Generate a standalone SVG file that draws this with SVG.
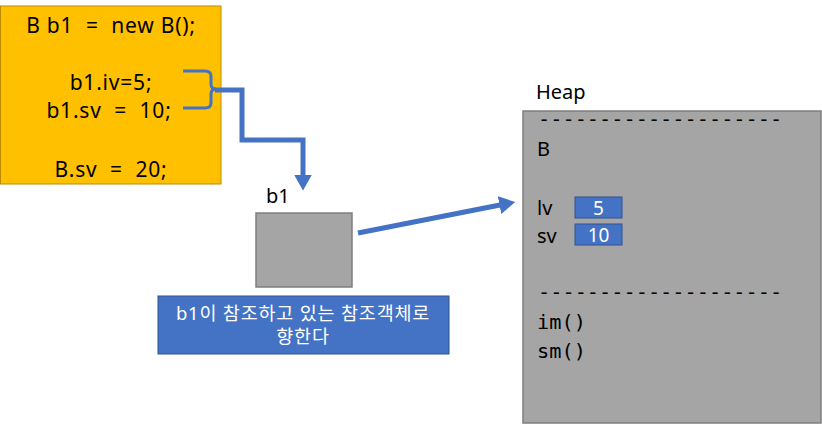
<svg xmlns="http://www.w3.org/2000/svg" width="822" height="424" viewBox="0 0 822 424">
<defs>
<style>
.t{font-family:"Noto Sans","Noto Sans CJK KR",sans-serif;font-size:20px;fill:#000}
.c{font-family:"Noto Sans","Noto Sans CJK KR",sans-serif;font-size:21px;letter-spacing:0.8px;fill:#000}
.m{font-family:"DejaVu Sans Mono","Liberation Mono",monospace;font-size:20.3px;fill:#000}
.w{font-family:"Noto Sans","Noto Sans CJK KR",sans-serif;fill:#fff}
.gray{fill:#a5a5a5;stroke:#7f7f7f;stroke-width:1.5}
.blue{fill:#4472c4;stroke:#2f528f;stroke-width:1}
.conn{fill:none;stroke:#4472c4;stroke-width:5}
</style>
<marker id="ah" markerUnits="userSpaceOnUse" markerWidth="20" markerHeight="20" viewBox="0 0 20 20" refX="0.5" refY="10" orient="auto">
<path d="M0,1 L16,10 L0,19 Z" fill="#4472c4"/>
</marker>
</defs>
<g id="code">
<rect x="0.5" y="6" width="220.5" height="178" fill="#ffc000" stroke="#bc8c00" stroke-width="1"/>
<text class="c" x="111" y="33" text-anchor="middle" xml:space="preserve">B b1  =  new B();</text>
<text class="c" x="111" y="90" text-anchor="middle">b1.iv=5;</text>
<text class="c" x="109" y="118" text-anchor="middle" xml:space="preserve">b1.sv  =  10;</text>
<text class="c" x="111" y="177" text-anchor="middle" xml:space="preserve">B.sv  =  20;</text>
</g>
<g id="brace">
<path d="M183,71 L205,71 Q211,71 211,76 L211,84 Q211,89 216,89 Q211,89 211,94 L211,103 Q211,108 205,108 L183,108" fill="none" stroke="#4472c4" stroke-width="3"/>
</g>
<g id="b1">
<text class="t" x="266" y="203">b1</text>
<rect class="gray" x="256" y="213" width="96" height="74"/>
</g>
<g id="note">
<rect class="blue" x="158" y="296" width="291" height="58"/>
<text class="w" font-size="18.5" letter-spacing="0.8" x="303" y="320" text-anchor="middle">b1이 참조하고 있는 참조객체로</text>
<text class="w" font-size="18.5" letter-spacing="0.8" x="303" y="343" text-anchor="middle">향한다</text>
</g>
<g id="heap">
<text class="t" x="536" y="99">Heap</text>
<rect class="gray" x="523" y="111" width="298" height="312"/>
<text class="m" x="538" y="126">--------------------</text>
<text class="t" x="537" y="156">B</text>
<text class="t" x="537" y="215">lv</text>
<rect class="blue" x="575" y="197" width="47" height="21"/>
<text class="w" font-size="19" x="598.5" y="215" text-anchor="middle">5</text>
<text class="t" x="537" y="243">sv</text>
<rect class="blue" x="575" y="224" width="47" height="21"/>
<text class="w" font-size="19" x="598.5" y="242" text-anchor="middle">10</text>
<text class="m" x="538" y="299">--------------------</text>
<text class="m" x="537" y="329">im()</text>
<text class="m" x="537" y="358">sm()</text>
</g>
<g id="connectors">
<path class="conn" d="M215,90 L242,90 L242,140 L303,140 L303,175" marker-end="url(#ah)"/>
<line class="conn" x1="358" y1="233" x2="500" y2="205" marker-end="url(#ah)"/>
</g>
</svg>
